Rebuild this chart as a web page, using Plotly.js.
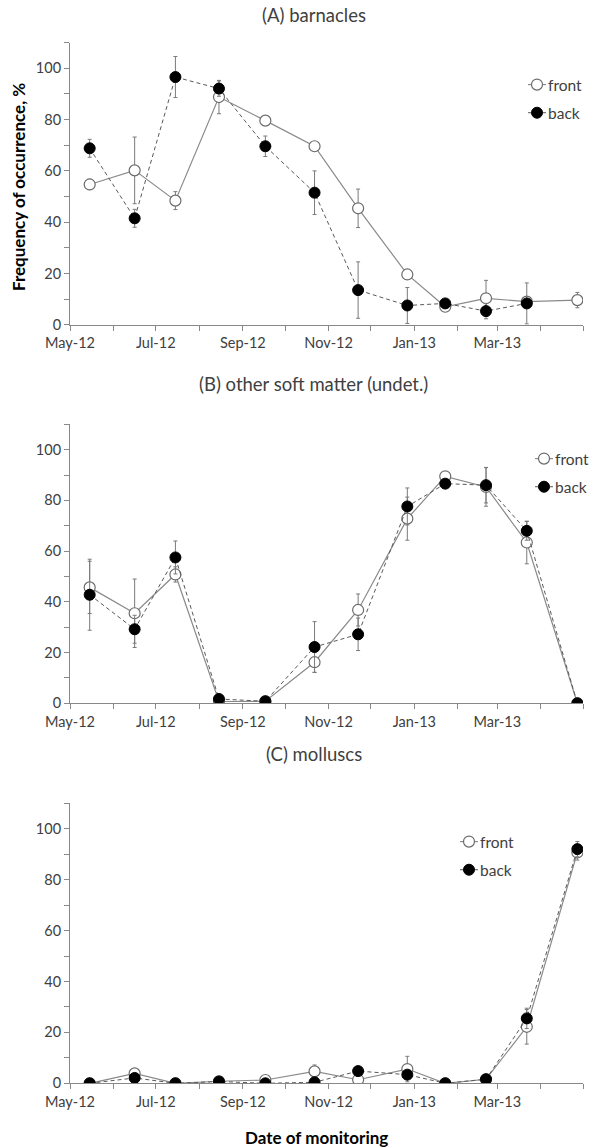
<!DOCTYPE html>
<html>
<head>
<meta charset="utf-8">
<script src="https://cdn.plot.ly/plotly-3.0.1.min.js"></script>
<style>html,body{margin:0;padding:0;background:#fff;}#chart{width:592px;height:1147px;}</style>
</head>
<body>
<div id="chart"></div>
<script>
// Sampling dates
const dates = ["2012-05-15","2012-06-16","2012-07-15","2012-08-15","2012-09-17","2012-10-22",
               "2012-11-22","2012-12-27","2013-01-23","2013-02-21","2013-03-22","2013-04-27"];

// (A) barnacles
const barnFront    = [54.7, 60.2, 48.4, 88.8, 79.6, 69.6, 45.4, 19.6, 7.0, 10.3, 9.0, 9.6];
const barnFrontErr = [2, 13, 3.5, 6.5, 1.5, 1.5, 7.5, 1.5, 1, 7, 2, 3];
const barnBack     = [68.8, 41.5, 96.6, 92.1, 69.6, 51.5, 13.5, 7.5, 8.3, 5.3, 8.3, null];
const barnBackErr  = [3.5, 3.5, 8, 3, 4, 8.5, 11, 7, 1, 3, 8, null];

// (B) other soft matter (undet.)
const softFront    = [45.7, 35.5, 50.8, 0.7, 0.8, 16.2, 36.8, 72.8, 89.5, 85.3, 63.4, 0];
const softFrontErr = [10.3, 13.5, 3, 0.5, 0.5, 4, 6.3, 8.5, 1, 7.6, 8.4, 0];
const softBack     = [42.8, 29.2, 57.5, 1.7, 0.8, 22.2, 27.2, 77.6, 86.6, 86.0, 68.0, 0];
const softBackErr  = [14, 5.5, 6.5, 0.5, 0.5, 10, 6.4, 7.3, 1.5, 7, 3.7, 0];

// (C) molluscs
const mollFront    = [0, 3.9, 0, 0.8, 1.3, 4.7, 1.4, 5.6, 0, 1.6, 22.2, 90.7];
const mollFrontErr = [0, 0.5, 0, 0.3, 0.5, 2.5, 0.5, 5, 0, 0.5, 6.8, 3];
const mollBack     = [0, 2.1, 0, 0.7, 0, 0.4, 4.8, 3.4, 0, 1.6, 25.5, 92.0];
const mollBackErr  = [0, 0.5, 0, 0.3, 0, 0.3, 0.8, 1, 0, 0.3, 4, 3];

const panelTitles = ["(A) barnacles", "(B) other soft matter (undet.)", "(C) molluscs"];
const seriesNames = ["front", "back"];
const yTitle = "Frequency of occurrence, %";
const xTitle = "Date of monitoring";

const FONT = "Lato, 'Open Sans', sans-serif";
const H = 1147;
const px = p => 1 - p / H;

function mk(y, err, isBack, ax, leg) {
  return {
    x: dates, y: y, type: 'scatter', mode: 'lines+markers',
    name: isBack ? seriesNames[1] : seriesNames[0],
    xaxis: 'x' + (ax === 1 ? '' : ax), yaxis: 'y' + (ax === 1 ? '' : ax),
    legend: leg, showlegend: true, legendgroup: leg + (isBack ? 'b' : 'f'),
    line: isBack ? {color: '#595959', width: 1, dash: '4px,3px'} : {color: '#8a8a8a', width: 1.2},
    marker: isBack ? {size: 11, color: '#000', line: {color: '#000', width: 1}}
                   : {size: 11, color: '#fff', line: {color: '#6b6b6b', width: 1.2}},
    error_y: {type: 'data', array: err, visible: true, color: '#7a7a7a', thickness: 1, width: 2}
  };
}

const data = [
  mk(barnFront, barnFrontErr, false, 1, 'legend'),
  mk(barnBack, barnBackErr, true, 1, 'legend'),
  mk(softFront, softFrontErr, false, 2, 'legend2'),
  mk(softBack, softBackErr, true, 2, 'legend2'),
  mk(mollFront, mollFrontErr, false, 3, 'legend3'),
  mk(mollBack, mollBackErr, true, 3, 'legend3')
];

function xax(anchor) {
  return {
    type: 'date', range: ['2012-05-01', '2013-05-01'], anchor: anchor,
    tick0: '2012-05-01', dtick: 'M2', tickformat: '%b-%y',
    ticks: 'outside', ticklen: 5, tickcolor: '#888', tickwidth: 1,
    minor: {dtick: 'M1', tick0: '2012-05-01', ticks: 'outside', ticklen: 5, tickcolor: '#888', tickwidth: 1, showgrid: false},
    showline: true, linecolor: '#888', linewidth: 1, showgrid: false, zeroline: false,
    tickfont: {family: FONT, size: 14.5, color: '#404040'}, domain: [0, 1], fixedrange: true
  };
}
function yax(anchor, dom) {
  return {
    range: [0, 110], anchor: anchor, domain: dom, dtick: 20, tick0: 0,
    ticks: 'outside', ticklen: 5, tickcolor: '#888', tickwidth: 1,
    minor: {dtick: 10, ticks: 'outside', ticklen: 5, tickcolor: '#888', tickwidth: 1, showgrid: false},
    showline: true, linecolor: '#888', linewidth: 1, showgrid: false, zeroline: false,
    tickfont: {family: FONT, size: 14.5, color: '#404040'}, fixedrange: true
  };
}
function leg(xp, yp) {
  return {
    x: (xp - 70) / 513, y: px(yp), xanchor: 'left', yanchor: 'top',
    font: {family: FONT, size: 15.5, color: '#404040'},
    itemwidth: 30, bgcolor: 'rgba(0,0,0,0)', traceorder: 'grouped',
    tracegroupgap: 5, itemclick: false
  };
}

const layout = {
  width: 592, height: H,
  margin: {l: 70, r: 9, t: 0, b: 0, autoexpand: false},
  paper_bgcolor: '#fff', plot_bgcolor: '#fff',
  font: {family: FONT, color: '#404040'},
  xaxis: xax('y'), yaxis: yax('x', [px(324.7), px(42.7)]),
  xaxis2: xax('y2'), yaxis2: yax('x2', [px(703.3), px(424.3)]),
  xaxis3: xax('y3'), yaxis3: yax('x3', [px(1083.3), px(803.3)]),
  legend: leg(516, 68),
  legend2: leg(523, 442),
  legend3: leg(448, 825),
  annotations: [
    {text: panelTitles[0], xref: 'paper', yref: 'paper', x: (314 - 70) / 513, y: px(15), xanchor: 'center', yanchor: 'middle', showarrow: false, font: {family: FONT, size: 18.5, color: '#404040'}},
    {text: panelTitles[1], xref: 'paper', yref: 'paper', x: (313 - 70) / 513, y: px(384), xanchor: 'center', yanchor: 'middle', showarrow: false, font: {family: FONT, size: 18.5, color: '#404040'}},
    {text: panelTitles[2], xref: 'paper', yref: 'paper', x: (314 - 70) / 513, y: px(754), xanchor: 'center', yanchor: 'middle', showarrow: false, font: {family: FONT, size: 18.5, color: '#404040'}},
    {text: '<b>' + yTitle + '</b>', xref: 'paper', yref: 'paper', x: (19 - 70) / 513, y: px(187), xanchor: 'center', yanchor: 'middle', textangle: -90, showarrow: false, font: {family: FONT, size: 17, color: '#000'}},
    {text: '<b>' + xTitle + '</b>', xref: 'paper', yref: 'paper', x: (316 - 70) / 513, y: px(1137), xanchor: 'center', yanchor: 'middle', showarrow: false, font: {family: FONT, size: 17, color: '#000'}}
  ]
};

const TX = 32;   // legend text offset inside item
function setA(el, name, val) { if (el.getAttribute(name) !== String(val)) el.setAttribute(name, val); }
function fixLegends() {
  // Short Excel-like legend stub with marker right before the text
  document.querySelectorAll('g.traces').forEach(g => {
    const txt = g.querySelector('text');
    if (!txt) return;
    setA(txt, 'x', TX);
    const cx = TX - 11;
    g.querySelectorAll('.legendpoints path').forEach(p => setA(p, 'transform', 'translate(' + cx + ',0)'));
    g.querySelectorAll('.legendlines path').forEach(p => {
      setA(p, 'd', 'M' + (cx - 9) + ',0h18');
      if (p.style.strokeDasharray !== 'none') p.style.strokeDasharray = 'none';
    });
  });
}

const gd = document.getElementById('chart');
const obs = new MutationObserver(() => fixLegends());
obs.observe(gd, {subtree: true, childList: true, attributes: true});
Plotly.newPlot(gd, data, layout, {staticPlot: true, displayModeBar: false}).then(() => {
  fixLegends();
  gd.on('plotly_afterplot', fixLegends);
  requestAnimationFrame(fixLegends);
  setTimeout(fixLegends, 30);
});
</script>
</body>
</html>
